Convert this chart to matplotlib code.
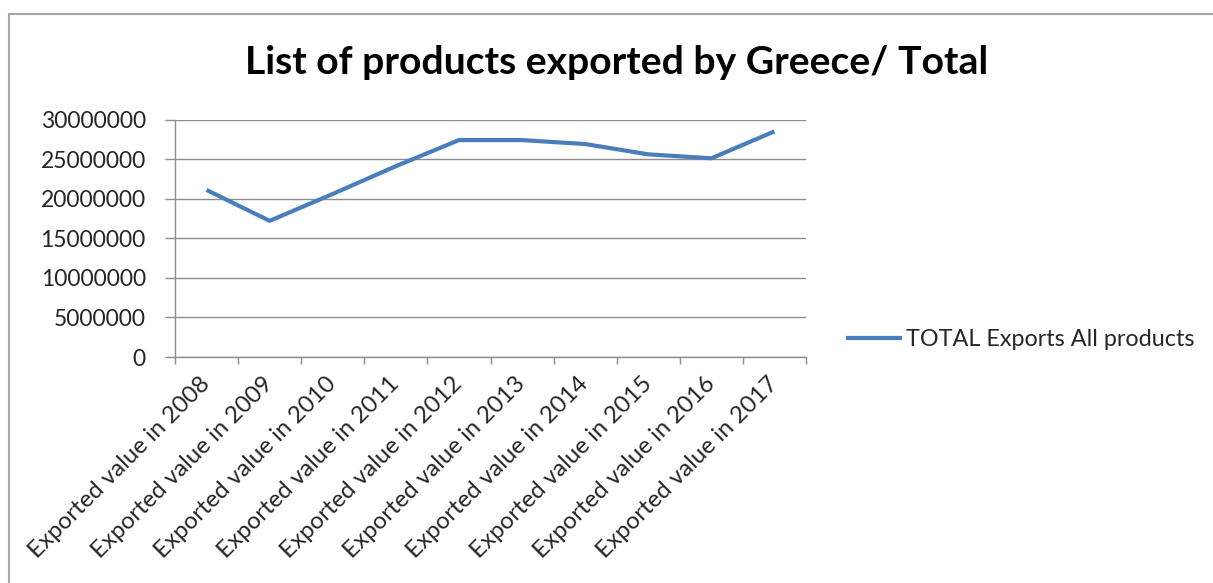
import matplotlib
matplotlib.use("Agg")
import matplotlib.pyplot as plt
from matplotlib.lines import Line2D
import numpy as np

categories = ["Exported value in 2008", "Exported value in 2009", "Exported value in 2010",
              "Exported value in 2011", "Exported value in 2012", "Exported value in 2013",
              "Exported value in 2014", "Exported value in 2015", "Exported value in 2016",
              "Exported value in 2017"]
values = [21100000, 17200000, 20600000, 24100000, 27400000, 27400000,
          26900000, 25600000, 25100000, 28500000]
series_name = "TOTAL Exports All products"
title = "List of products exported by Greece/ Total"
yticks = [0, 5000000, 10000000, 15000000, 20000000, 25000000, 30000000]

plt.rcParams['font.family'] = ['Lato', 'DejaVu Sans']

W, H = 1213, 583
fig = plt.figure(figsize=(W / 100, H / 100), dpi=100)

# chart border (cut at right/bottom)
fig.add_artist(Line2D([9 / W, 1.0], [1 - 14 / H, 1 - 14 / H], color='#a6a6a6', lw=1.5,
                      transform=fig.transFigure))
fig.add_artist(Line2D([9 / W, 9 / W], [0, 1 - 14 / H], color='#a6a6a6', lw=1.5,
                      transform=fig.transFigure))

ax = fig.add_axes([175 / W, 1 - 357 / H, (806 - 175) / W, (357 - 119.5) / H])
x = np.arange(len(categories))
line, = ax.plot(x, values, color='#4a7ebb', lw=3.0, solid_capstyle='butt',
                solid_joinstyle='round', label=series_name, zorder=3)

ax.set_xlim(-0.5, len(categories) - 0.5)
ax.set_ylim(0, 30000000)
ax.set_yticks(yticks)
ax.set_yticklabels([str(v) for v in yticks], fontsize=16.5, color='#262626')
ax.yaxis.grid(True, color='#8c8c8c', lw=1.0)
ax.set_axisbelow(True)

ax.set_xticks(x)
ax.set_xticklabels(categories, rotation=45, ha='right', va='center',
                   rotation_mode='anchor', fontsize=17.3, color='#262626')
ax.set_xticks(np.arange(-0.5, len(categories)), minor=True)
ax.tick_params(axis='x', which='major', length=0, pad=17)
ax.tick_params(axis='x', which='minor', length=5, color='#8c8c8c', width=1.0)
ax.tick_params(axis='y', length=7, color='#8c8c8c', width=1.0, pad=14)

for s in ['top', 'right']:
    ax.spines[s].set_visible(False)
for s in ['left', 'bottom']:
    ax.spines[s].set_color('#8c8c8c')
    ax.spines[s].set_linewidth(1.0)

fig.text(617 / W, 1 - 62 / H, title, ha='center', va='center', fontsize=28.2,
         fontweight='bold', color='black')

fig.legend(handles=[line], labels=[series_name], loc='center left',
           bbox_to_anchor=(846 / W, 1 - 340 / H), frameon=False, fontsize=16.8,
           handlelength=2.4, handletextpad=0.15, borderpad=0, borderaxespad=0,
           labelcolor='#262626')

fig.savefig('out.png', dpi=100)
